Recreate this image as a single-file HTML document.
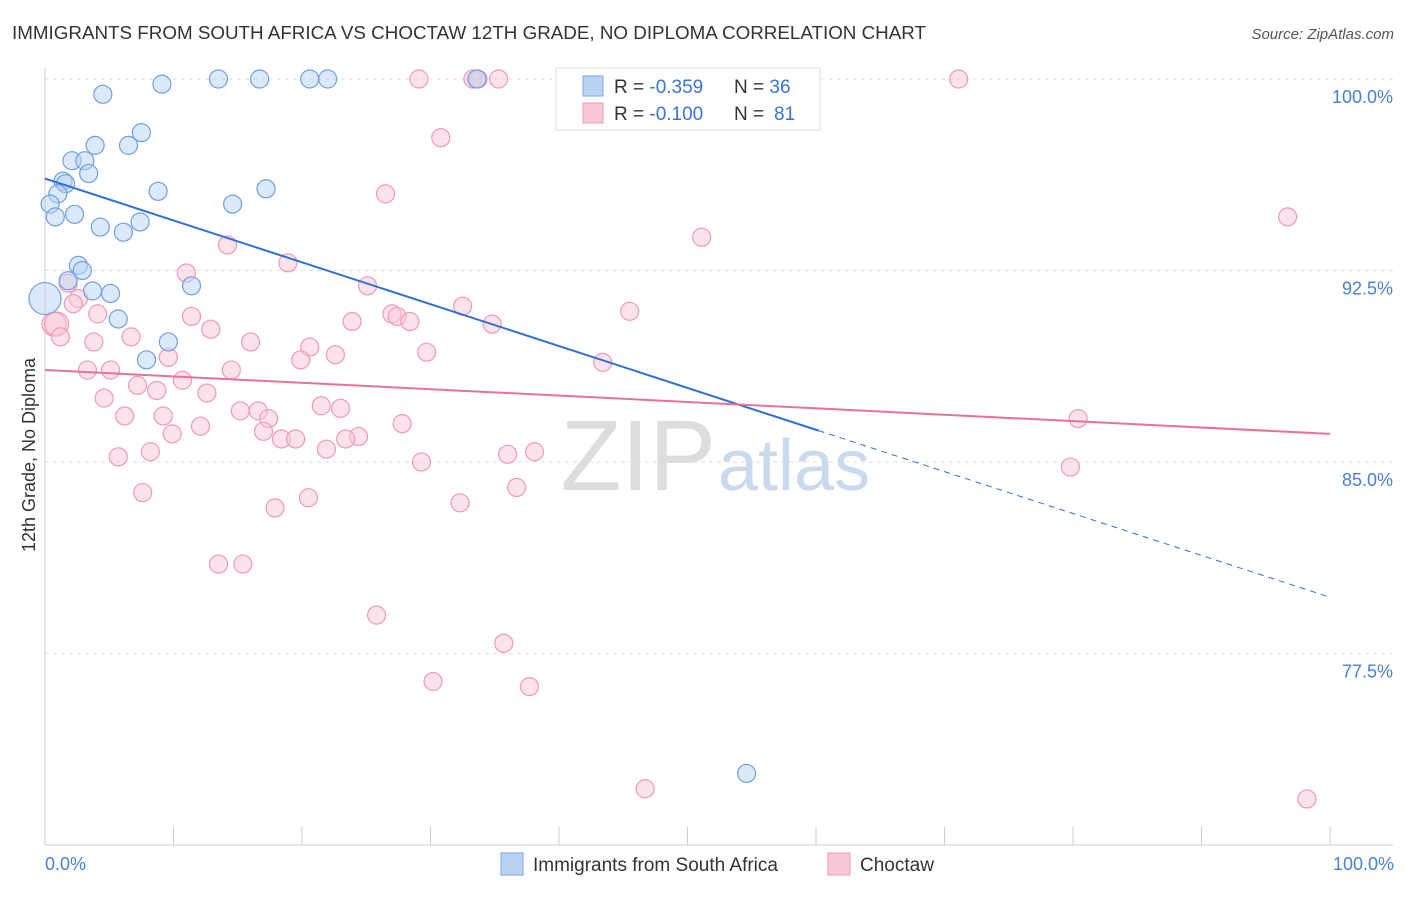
<!DOCTYPE html>
<html><head><meta charset="utf-8"><style>
body{margin:0;background:#fff;font-family:"Liberation Sans",sans-serif}
svg text{font-family:"Liberation Sans",sans-serif}
</style></head><body>
<svg id="chart" width="1406" height="892" xmlns="http://www.w3.org/2000/svg">
<text x="12" y="39" font-size="18" fill="#333" textLength="914" lengthAdjust="spacingAndGlyphs">IMMIGRANTS FROM SOUTH AFRICA VS CHOCTAW 12TH GRADE, NO DIPLOMA CORRELATION CHART</text>
<text x="1394" y="39" font-size="15" fill="#555" font-style="italic" text-anchor="end">Source: ZipAtlas.com</text>
<g id="grid"></g>
<g id="axes"></g>
<text x="716" y="490" font-size="100" fill="#ddd" font-family="Liberation Serif" text-anchor="end">ZIP</text>
<text x="718" y="490" font-size="72" fill="#c9d9ee">atlas</text>
<g id="marks"></g>
<text transform="translate(35,455) rotate(-90)" font-size="18" fill="#333" text-anchor="middle">12th Grade, No Diploma</text>
<text x="45" y="870" font-size="18" fill="#4a7fd6">0.0%</text>
<text x="1394" y="870" font-size="18" fill="#4a7fd6" text-anchor="end">100.0%</text>
<g>
<rect x="556" y="68" width="264" height="62" fill="#fff" stroke="#ddd"/>
<rect x="583" y="76" width="20" height="20" fill="#b9d3f5" stroke="#7aa6e6"/>
<rect x="583" y="103" width="20" height="20" fill="#f9c8d8" stroke="#ee9ab5"/>
<text x="614" y="93" font-size="19" fill="#333">R = <tspan fill="#3a73d9">-0.359</tspan></text>
<text x="734" y="93" font-size="19" fill="#333">N = <tspan fill="#3a73d9">36</tspan></text>
<text x="614" y="120" font-size="19" fill="#333">R = <tspan fill="#3a73d9">-0.100</tspan></text>
<text x="734" y="120" font-size="19" fill="#333">N = <tspan fill="#3a73d9" x="774">81</tspan></text>
</g>
<g>
<rect x="501" y="853" width="22" height="22" fill="#b9d3f5" stroke="#7aa6e6"/>
<text x="533" y="871" font-size="19" fill="#333">Immigrants from South Africa</text>
<rect x="828" y="853" width="22" height="22" fill="#f9c8d8" stroke="#ee9ab5"/>
<text x="860" y="871" font-size="19" fill="#333">Choctaw</text>
</g>
</svg>
<script>
const yTicks=[100,92.5,85,77.5];
const yTickLabels=["100.0%","92.5%","85.0%","77.5%"];
const xTicks=[0,10,20,30,40,50,60,70,80,90,100];
const blueX=[0,4.5,9.1,13.5,16.7,20.6,22.0,33.6,7.5,6.5,3.9,2.1,3.1,3.4,1.4,1.6,1.0,0.4,0.8,2.3,8.8,17.2,14.6,4.3,6.1,7.4,2.6,2.9,1.8,3.7,5.1,11.4,5.7,9.6,7.9,54.6];
const blueY=[91.4,99.4,99.8,100,100,100,100,100,97.9,97.4,97.4,96.8,96.8,96.3,96.0,95.9,95.5,95.1,94.6,94.7,95.6,95.7,95.1,94.2,94.0,94.4,92.7,92.5,92.1,91.7,91.6,91.9,90.6,89.7,89.0,72.8];
const pinkX=[29.1,33.3,33.7,35.3,71.1,30.8,26.5,96.7,51.1,14.2,18.9,11.0,25.1,1.8,2.6,2.2,32.5,45.5,4.1,11.4,23.9,27.0,27.4,28.4,34.8,0.7,0.9,1.2,12.9,3.8,6.7,16.0,20.6,19.9,22.6,29.7,9.6,43.4,3.3,5.1,14.5,10.7,7.2,8.7,12.6,4.6,21.5,15.2,16.6,23.0,6.2,9.2,17.4,27.8,9.9,12.1,17.0,18.4,19.5,24.4,23.4,21.9,8.2,5.7,29.3,36.0,38.1,80.4,79.8,36.7,7.6,20.5,32.3,17.9,13.5,15.4,25.8,35.7,30.2,37.7,46.7,98.2];
const pinkY=[100,100,100,100,100,97.7,95.5,94.6,93.8,93.5,92.8,92.4,91.9,92.0,91.4,91.2,91.1,90.9,90.8,90.7,90.5,90.8,90.7,90.5,90.4,90.4,90.4,89.9,90.2,89.7,89.9,89.7,89.5,89.0,89.2,89.3,89.1,88.9,88.6,88.6,88.6,88.2,88.0,87.8,87.7,87.5,87.2,87.0,87.0,87.1,86.8,86.8,86.7,86.5,86.1,86.4,86.2,85.9,85.9,86.0,85.9,85.5,85.4,85.2,85.0,85.3,85.4,86.7,84.8,84.0,83.8,83.6,83.4,83.2,81.0,81.0,79.0,77.9,76.4,76.2,72.2,71.8];
const blueTrend=[96.1,79.7];
const blueSolidEnd=60.2;
const pinkTrend=[88.6,86.1];

const NS="http://www.w3.org/2000/svg";
const X=v=>45+v*12.85;
const Y=v=>79+(100-v)*25.53;
function mk(tag,attrs,parent){const e=document.createElementNS(NS,tag);for(const k in attrs)e.setAttribute(k,attrs[k]);parent.appendChild(e);return e;}
const grid=document.getElementById('grid'),axes=document.getElementById('axes'),marks=document.getElementById('marks');
yTicks.forEach((t,i)=>{
  const l=mk('line',{x1:45,x2:1393,y1:Y(t),y2:Y(t),stroke:'#ddd','stroke-dasharray':'4,4'},grid);
  
  
  const tx=mk('text',{x:1393,y:Y(t)+24,'font-size':18,fill:'#4a7fd6','text-anchor':'end'},grid);
  tx.textContent=yTickLabels[i];
  
  
});
const ya=mk('line',{x1:45,x2:45,y1:68,y2:845,stroke:'#ccc'},axes);


const xa=mk('line',{x1:45,x2:1393,y1:845,y2:845,stroke:'#ccc'},axes);


xTicks.forEach(t=>{
  const l=mk('line',{x1:X(t),x2:X(t),y1:827,y2:845,stroke:'#ccc'},axes);
  
  
});
function dot(x,y,r,fill,stroke,name){
  const c=mk('circle',{cx:X(x),cy:Y(y),r:r,fill:fill,stroke:stroke,'stroke-width':1.2,'fill-opacity':0.5},marks);
  
  
}
pinkX.forEach((x,i)=>dot(x,pinkY[i],(x<1.0&&pinkY[i]>90)?12:9,'#f9c8d8','#ee9ab5','choctaw-point'));
blueX.forEach((x,i)=>dot(x,blueY[i],i===0?16:9,'#b9d3f5','#6f9fe3','south-africa-point'));
const by=x=>blueTrend[0]+(blueTrend[1]-blueTrend[0])*x/100;
const bl=mk('line',{x1:X(0),y1:Y(by(0)),x2:X(blueSolidEnd),y2:Y(by(blueSolidEnd)),stroke:'#2f6fd8','stroke-width':2},marks);


const bd=mk('line',{x1:X(blueSolidEnd),y1:Y(by(blueSolidEnd)),x2:X(100),y2:Y(by(100)),stroke:'#2f6fd8','stroke-width':1,'stroke-dasharray':'6,5'},marks);


const pl=mk('line',{x1:X(0),y1:Y(pinkTrend[0]),x2:X(100),y2:Y(pinkTrend[1]),stroke:'#e8709a','stroke-width':2},marks);


</script>
</body></html>
